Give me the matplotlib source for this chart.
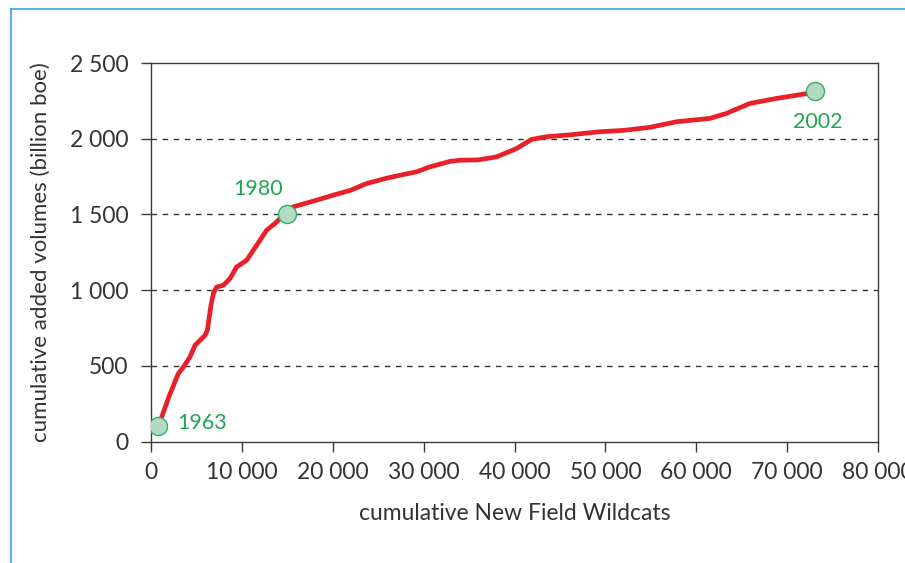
import matplotlib
matplotlib.use("Agg")
import matplotlib.pyplot as plt
from matplotlib.lines import Line2D

plt.rcParams['font.family'] = ['Lato', 'DejaVu Sans']

# cumulative new field wildcats
wildcats = [1170, 2000, 3000, 3560, 4300, 4840, 5940, 6200, 6600, 6860, 7220, 7960,
            8690, 9420, 10520, 11260, 12000, 12730, 13640, 14740, 15660, 18000,
            20050, 22000, 23720, 26000, 27500, 29220, 30690, 32890, 34000, 36000,
            38030, 40230, 41870, 43520, 46000, 49390, 52000, 54900, 57830, 61500,
            63330, 65900, 68830, 72300]
# cumulative added volumes (billion boe)
volumes = [160, 300, 448, 491, 560, 635, 701, 734, 900, 977, 1020, 1032,
           1076, 1153, 1197, 1263, 1330, 1396, 1440, 1506, 1550, 1590,
           1627, 1660, 1704, 1740, 1760, 1781, 1814, 1850, 1858, 1860,
           1880, 1935, 1995, 2013, 2025, 2046, 2055, 2075, 2112, 2134,
           2167, 2233, 2266, 2299]

marker_x = [800, 15000, 73100]
marker_y = [105, 1500, 2315]
marker_labels = ["1963", "1980", "2002"]

xticks = [0, 10000, 20000, 30000, 40000, 50000, 60000, 70000, 80000]
xtick_labels = ["0", "10 000", "20 000", "30 000", "40 000", "50 000", "60 000", "70 000", "80 000"]
yticks = [0, 500, 1000, 1500, 2000, 2500]
ytick_labels = ["0", "500", "1 000", "1 500", "2 000", "2 500"]

W, H = 905, 563
fig = plt.figure(figsize=(W / 100, H / 100), dpi=100)
ax = fig.add_axes([151 / W, 1 - 441.5 / H, (878 - 151) / W, (441.5 - 63) / H])

spine_color = '#3a3a3a'
for s in ax.spines.values():
    s.set_color(spine_color)
    s.set_linewidth(1.0)

ax.set_xlim(0, 80000)
ax.set_ylim(0, 2500)
ax.set_xticks(xticks)
ax.set_xticklabels(xtick_labels)
ax.set_yticks(yticks)
ax.set_yticklabels(ytick_labels)
ax.tick_params(axis='both', direction='out', length=7, width=1.0, color=spine_color,
               labelcolor='#333333', labelsize=16.5)
ax.tick_params(axis='x', pad=8)
ax.tick_params(axis='y', pad=9)

for yv in [500, 1000, 1500, 2000]:
    ax.axhline(yv, color='#333333', linestyle=(0, (4, 4)), linewidth=1.0, zorder=1)

ax.plot(wildcats, volumes, color='#e8202a', linewidth=3.4, solid_capstyle='round',
        solid_joinstyle='round', zorder=3)
ax.plot(marker_x, marker_y, linestyle='none', marker='o', markersize=13,
        markerfacecolor='#b2dcbf', markeredgecolor='#3aaa6e', markeredgewidth=1.0, zorder=4)

green = '#22a553'
ax.annotate(marker_labels[0], (marker_x[0], marker_y[0]), xytext=(14, 2), textcoords='offset points',
            ha='left', va='center', color=green, fontsize=15.5)
ax.annotate(marker_labels[1], (marker_x[1], marker_y[1]), xytext=(-21, 18), textcoords='offset points',
            ha='center', va='center', color=green, fontsize=15.5)
ax.annotate(marker_labels[2], (marker_x[2], marker_y[2]), xytext=(2, -22), textcoords='offset points',
            ha='center', va='center', color=green, fontsize=15.5)

ax.set_xlabel('cumulative New Field Wildcats', fontsize=16.5, color='#333333', labelpad=14)
ax.set_ylabel('cumulative added volumes (billion boe)', fontsize=16, color='#333333', labelpad=14)

# blue frame
frame_color = '#3c9fdc'
fig.add_artist(Line2D([11 / W, 11 / W], [0, 1 - 9 / H], transform=fig.transFigure,
                      color=frame_color, linewidth=1.2))
fig.add_artist(Line2D([11 / W, 1], [1 - 9 / H, 1 - 9 / H], transform=fig.transFigure,
                      color=frame_color, linewidth=1.2))

fig.savefig('out.png', dpi=100)
